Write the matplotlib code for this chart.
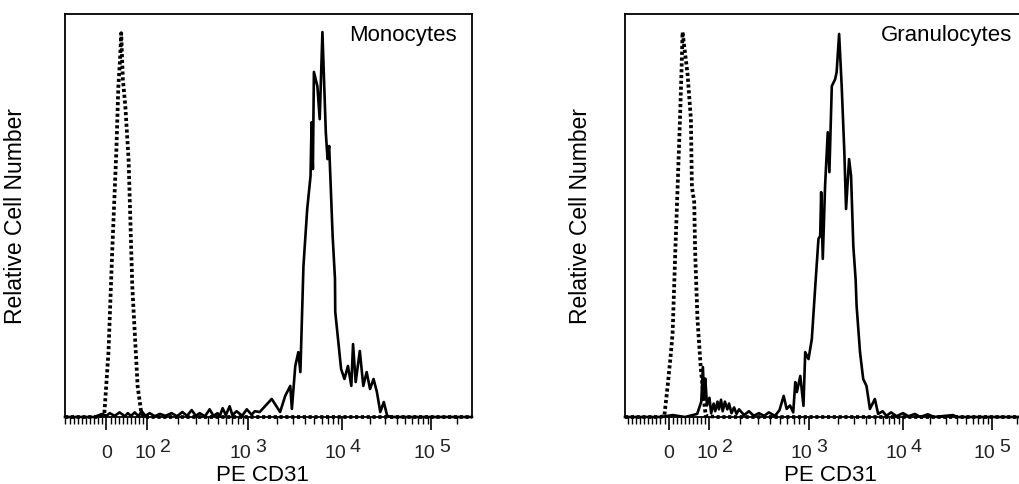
import numpy as np
import matplotlib
matplotlib.use("Agg")
import matplotlib.pyplot as plt
import matplotlib.transforms as mtransforms
from matplotlib.ticker import FixedLocator, NullFormatter, NullLocator

plt.rcParams["font.family"] = ["Liberation Sans", "DejaVu Sans"]

# --- data (fluorescence value, relative count) ---------------------------------
mono_ctrl_x = [-101, -20, -5, 5, 14, 24, 29, 33, 36, 40, 46, 54, 63, 76, 85, 92, 120, 298000]
mono_ctrl_y = [0, 0, 1, 17, 43, 69, 86, 93, 100, 88, 81, 67, 34, 8, 1, 0, 0, 0]

mono_cd31_x = [-101, -30, -10, 0, 8, 20, 32, 45, 52, 60, 69, 78, 86, 95, 105, 118, 132,
               150, 172, 195, 220, 245, 272, 300, 327, 370, 412, 450, 495, 520, 557,
               600, 656, 700, 773, 880, 982, 1100, 1189, 1334, 1778, 2175, 2460, 2780,
               2891, 3141, 3381, 3556, 3832, 4202, 4560, 4677, 4831, 4953, 5393, 5715,
               6109, 6643, 6934, 7220, 7870, 8344, 8400, 8936, 9720, 10578, 11540,
               12565, 13122, 14028, 15570, 17007, 18530, 20185, 22080, 24066, 26240,
               28720, 31330, 35000, 298000]
mono_cd31_y = [0, 0, 0.8, 0.3, 1, 0.3, 1.2, 0.2, 1, 0.3, 1.2, 0.2, 1.5, 0.3, 1, 0.2, 0.8,
               0.3, 1, 0.2, 1.3, 0.3, 1.8, 0.3, 1, 0.2, 2, 0.3, 1, 0.2, 2.3,
               0.5, 2.8, 0.5, 1.5, 0.3, 2, 0.6, 1.5, 1.3, 4.7, 1.3, 5.5, 8.1,
               2.1, 13.3, 16.9, 11.7, 39.3, 54.2, 62.8, 76.8, 64.6, 89.9, 86.2, 77.6,
               100.3, 74.2, 67.2, 70.6, 47.2, 36.0, 27.4, 21.1, 12.5, 9.9, 13.3,
               8.1, 19.0, 9.1, 17.2, 8.1, 11.7, 7.3, 9.9, 6.5, 1.3,
               3.9, 0.3, 0, 0]

gran_ctrl_x = [-107, -20, -10.5, -2.4, 5.9, 9.8, 16.3, 22, 27.8, 31.7, 34.1, 46.3, 54.6,
               57, 62.7, 65, 70.7, 79, 87, 91, 120, 298000]
gran_ctrl_y = [0, 0, 0.3, 8.1, 17, 22, 43, 60, 77.6, 90.7, 100.3, 89.4, 77.6,
               60, 56, 43, 25.5, 12.5, 3.9, 0.3, 0, 0]

gran_cd31_x = [-107, -20, 10, 40, 70, 80, 84, 87, 90, 94, 100, 104, 110, 114, 120, 124,
               130, 135, 142, 150, 156, 165, 175, 185, 196, 220, 246, 275, 309, 350,
               389, 450, 500, 551, 591, 640, 690, 724, 752, 815, 879, 916, 991, 1072,
               1164, 1256, 1309, 1340, 1393, 1472, 1570, 1633, 1730, 1875, 1945, 2065,
               2198, 2344, 2443, 2630, 2761, 2917, 3083, 3162, 3436, 3715, 4027, 4385,
               4955, 5370, 6000, 6600, 7413, 8500, 10000, 11500, 13520, 15500, 18750,
               22000, 35890, 40000, 298000]
gran_cd31_y = [0, 0, 0.5, 0, 0.8, 4, 13, 5, 10, 3, 5, 1, 3.5, 1.5, 4, 2,
               4.5, 1.5, 4, 2, 3.5, 1, 2.5, 0.8, 2, 0.5, 1.5, 0.3, 1, 0.3,
               1.2, 0.3, 1.8, 5.5, 2.1, 3, 1.2, 9.1, 6.5, 10.7, 2.9, 16.9, 15.1, 20.3,
               34.1, 46.4, 47.2, 58.6, 41.2, 60.2, 74.2, 63.8, 86.2, 88.0, 89.9, 99.8,
               86.2, 69.0, 54.2, 67.2, 62.8, 44.5, 36.0, 28.9, 16.9, 9.9, 8.1, 2.1,
               4.7, 0.8, 1.5, 0.3, 1.2, 0.2, 1, 0.2, 0.8, 0, 0.7,
               0, 0.5, 0, 0]

panel_names = ["Monocytes", "Granulocytes"]
major_ticks = [0, 1e2, 1e3, 1e4, 1e5]

# --- biexponential-like display axis ------------------------------------------
LIN_POS = 41.0
A_COEF = 102.7
B_COEF = -2.7


def forward(x):
    x = np.asarray(x, dtype=float)
    u = np.minimum(np.log10(np.maximum(x, 100.0) / 100.0), 15)
    return np.where(x <= 100, x * LIN_POS / 100.0, LIN_POS + A_COEF * u + B_COEF * u * u)


def inverse(p):
    p = np.asarray(p, dtype=float)
    d = np.clip(p - LIN_POS, 0, None)
    disc = np.maximum(A_COEF * A_COEF + 4 * B_COEF * d, 0)
    u = (-A_COEF + np.sqrt(disc)) / (2 * B_COEF)
    return np.where(p <= LIN_POS, p * 100.0 / LIN_POS, 100.0 * 10.0 ** u)


minor_ticks = [v for v in range(-100, 101, 10) if v != 0]
for exp in range(2, 6):
    minor_ticks += [k * 10 ** exp for k in range(2, 10) if k * 10 ** exp < 2.9e5]

fig = plt.figure(figsize=(10.2, 4.85), dpi=100)
W, H = 1020, 485
panels = [
    dict(left=65, xmin=-101, ctrl=(mono_ctrl_x, mono_ctrl_y), cd31=(mono_cd31_x, mono_cd31_y),
         name_x=0.963, ylab_x=-0.093, xlab_x=0.486),
    dict(left=625, xmin=-107, ctrl=(gran_ctrl_x, gran_ctrl_y), cd31=(gran_cd31_x, gran_cd31_y),
         name_x=0.951, ylab_x=-0.08, xlab_x=0.504),
]

for name, p in zip(panel_names, panels):
    ax = fig.add_axes([p["left"] / W, (H - 418) / H, 407 / W, 403 / H])
    ax.set_xscale("function", functions=(forward, inverse))
    ax.set_xlim(p["xmin"], 298500)
    ax.set_ylim(0, 105)

    ax.plot(*p["ctrl"], color="black", lw=2.7, linestyle=(0, (0.85, 0.7)),
            dash_capstyle="butt", clip_on=False, zorder=3)
    ax.plot(*p["cd31"], color="black", lw=1.9, clip_on=False, zorder=4)

    for s in ax.spines.values():
        s.set_linewidth(1.3)
    ax.xaxis.set_major_locator(FixedLocator(major_ticks))
    ax.xaxis.set_minor_locator(FixedLocator(minor_ticks))
    ax.xaxis.set_major_formatter(NullFormatter())
    ax.xaxis.set_minor_formatter(NullFormatter())
    ax.yaxis.set_major_locator(NullLocator())
    ax.tick_params(axis="x", which="major", direction="out", length=9, width=1.2)
    ax.tick_params(axis="x", which="minor", direction="out", length=5, width=1.0)

    # tick labels: "0" and 10^n with full-size raised exponent
    base = mtransforms.blended_transform_factory(ax.transData, ax.transAxes)
    ax.text(0, 0, "0", fontsize=14, ha="center", va="baseline", color="#222222",
            transform=mtransforms.offset_copy(base, fig=fig, x=0, y=-40, units="dots"))
    for exp in range(2, 6):
        shift = 5 if exp == 2 else 0
        ax.text(10.0 ** exp, 0, "10", fontsize=14, ha="left", va="baseline", color="#222222",
                transform=mtransforms.offset_copy(base, fig=fig, x=-18 + shift, y=-40, units="dots"))
        ax.text(10.0 ** exp, 0, str(exp), fontsize=14, ha="left", va="baseline", color="#222222",
                transform=mtransforms.offset_copy(base, fig=fig, x=7.5 + shift, y=-34, units="dots"))

    ax.text(p["name_x"], 0.975, name, transform=ax.transAxes, ha="right", va="top", fontsize=16)
    ax.set_ylabel("Relative Cell Number", fontsize=16.5)
    ax.yaxis.set_label_coords(p["ylab_x"], 0.5)
    ax.set_xlabel("PE CD31", fontsize=16)
    ax.xaxis.set_label_coords(p["xlab_x"], -0.117)

fig.savefig("out.png", dpi=100, facecolor="white")
